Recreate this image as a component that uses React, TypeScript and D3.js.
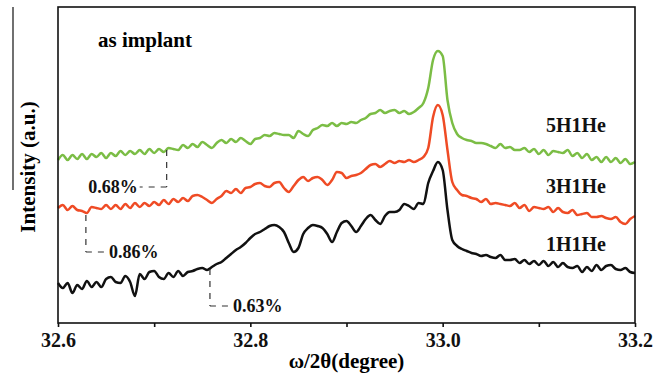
import { useEffect, useRef } from 'react';
import * as d3 from 'd3';

// scan grid (degrees)
const scanStart = 32.6;
const scanStep = 0.005;

// intensities (a.u.), one per scan step
const int5H1He = [
  163, 168, 163, 168, 164, 169, 164, 169, 166, 170, 165, 170, 167, 172, 168, 172, 169, 173, 169, 174,
  170, 174, 171, 175, 174, 173, 178, 175, 179, 176, 181, 178, 175, 180, 183, 180, 184, 181, 185, 182,
  179, 184, 185, 188, 187, 190, 189, 188, 188, 185, 192, 189, 187, 193, 195, 198, 197, 200, 197, 200,
  199, 201, 200, 203, 205, 209, 210, 213, 210, 212, 213, 210, 212, 209, 211, 215, 220, 235, 263, 272,
  267, 223, 200, 189, 185, 183, 182, 180, 180, 179, 177, 175, 179, 175, 176, 173, 173, 175, 171, 174,
  169, 173, 168, 172, 171, 170, 173, 167, 170, 165, 169, 163, 166, 161, 166, 161, 165, 160, 164, 159,
  161,
];

const int3H1He = [
  115, 118, 113, 117, 113, 112, 110, 116, 115, 114, 118, 114, 118, 114, 119, 115, 120, 116, 120, 117,
  121, 118, 123, 119, 124, 121, 125, 122, 127, 128, 126, 123, 120, 124, 127, 132, 130, 134, 130, 135,
  136, 139, 140, 137, 136, 140, 141, 135, 131, 137, 143, 146, 142, 145, 146, 143, 138, 143, 151, 150,
  145, 147, 148, 150, 154, 158, 159, 156, 159, 162, 160, 162, 161, 163, 161, 163, 166, 175, 206, 218,
  208, 173, 141, 133, 128, 127, 125, 124, 121, 124, 119, 120, 119, 118, 117, 120, 115, 118, 112, 116,
  115, 114, 116, 111, 115, 111, 110, 113, 108, 109, 110, 106, 106, 107, 105, 104, 106, 101, 99, 104,
  107,
];

const int1H1He = [
  40, 35, 40, 30, 38, 34, 42, 36, 41, 36, 44, 46, 41, 40, 47, 41, 27, 49, 44, 51,
  52, 46, 44, 50, 46, 52, 47, 51, 52, 54, 55, 53, 56, 59, 61, 65, 69, 73, 76, 80,
  85, 89, 91, 94, 97, 98, 96, 91, 80, 71, 75, 89, 95, 98, 97, 95, 89, 81, 91, 100,
  102, 97, 91, 97, 104, 108, 103, 99, 107, 111, 111, 113, 119, 117, 114, 120, 119, 140, 152, 161,
  153, 113, 83, 77, 74, 72, 70, 69, 67, 68, 66, 65, 68, 63, 63, 64, 60, 63, 59, 62,
  58, 62, 57, 61, 56, 60, 56, 55, 57, 51, 56, 52, 58, 53, 57, 58, 54, 53, 55, 51,
  50,
];

const seriesNames = ['5H1He', '3H1He', '1H1He'];
const seriesColors = ['#7bbd45', '#ef4b25', '#111111'];

const xTicks = [32.6, 32.7, 32.8, 32.9, 33.0, 33.1, 33.2];
const xTickLabels = ['32.6', '', '32.8', '', '33.0', '', '33.2'];

const strainLabels = ['0.68%', '0.86%', '0.63%'];
const strainAngles = [32.713, 32.629, 32.758];

const FONT = 'Liberation Serif';

const App = () => {
  const svgRef = useRef(null);

  useEffect(() => {
    const svg = d3.select(svgRef.current);
    svg.selectAll('*').remove();

    const width = 667;
    const height = 376;
    const margin = { top: 7, right: 32, bottom: 53, left: 58 };

    svg.attr('width', width)
      .attr('height', height)
      .attr('font-family', FONT)
      .attr('font-weight', 'bold');

    svg.append('rect').attr('width', width).attr('height', height).attr('fill', '#ffffff');

    const x = d3
      .scaleLinear()
      .domain([32.6, 33.2])
      .range([margin.left, width - margin.right]);

    const y = d3
      .scaleLinear()
      .domain([0, 316])
      .range([height - margin.bottom, margin.top]);

    const allSeries = [int5H1He, int3H1He, int1H1He];

    // curves
    const line = d3
      .line()
      .x((d, i) => x(scanStart + i * scanStep))
      .y((d) => y(d))
      .curve(d3.curveMonotoneX);

    allSeries.forEach((s, k) => {
      svg.append('path')
        .datum(s)
        .attr('d', line)
        .attr('fill', 'none')
        .attr('stroke', seriesColors[k])
        .attr('stroke-width', 2.5)
        .attr('stroke-linejoin', 'round');
    });

    // frame
    svg.append('rect')
      .attr('x', margin.left)
      .attr('y', margin.top)
      .attr('width', width - margin.left - margin.right)
      .attr('height', height - margin.top - margin.bottom)
      .attr('fill', 'none')
      .attr('stroke', '#111')
      .attr('stroke-width', 1.6);

    // x axis
    const xAxis = d3
      .axisBottom(x)
      .tickValues(xTicks)
      .tickSize(4)
      .tickPadding(6)
      .tickFormat((d, i) => xTickLabels[i]);

    const gx = svg.append('g')
      .attr('transform', `translate(0,${height - margin.bottom})`)
      .call(xAxis);
    gx.attr('font-family', FONT).attr('font-size', 20).attr('font-weight', 'bold');
    gx.select('.domain').remove();
    gx.selectAll('line').attr('stroke', '#111').attr('stroke-width', 1.6);
    gx.selectAll('text').attr('fill', '#111');

    svg.append('text')
      .attr('x', (margin.left + width - margin.right) / 2)
      .attr('y', 368)
      .attr('text-anchor', 'middle')
      .attr('font-size', 21)
      .text('ω/2θ(degree)');

    // y label
    svg.append('line')
      .attr('x1', 13).attr('x2', 13)
      .attr('y1', 7).attr('y2', 190)
      .attr('stroke', '#111')
      .attr('stroke-width', 1.2);

    svg.append('text')
      .attr('transform', 'translate(35,167) rotate(-90)')
      .attr('text-anchor', 'middle')
      .attr('font-size', 21)
      .text('Intensity (a.u.)');

    svg.append('text')
      .attr('x', 98)
      .attr('y', 47)
      .attr('font-size', 21)
      .text('as implant');

    // series labels
    const labelBaselines = [132, 193, 251];
    seriesNames.forEach((n, k) => {
      svg.append('text')
        .attr('x', 546)
        .attr('y', labelBaselines[k])
        .attr('font-size', 20)
        .attr('fill', '#111')
        .text(n);
    });

    // strain annotations
    const dash = '6,6';
    strainAngles.forEach((a, k) => {
      const s = allSeries[k];
      const idx = Math.round((a - scanStart) / scanStep);
      const ax = x(a);
      const top = y(s[idx]) + 2;
      const bottom = top + 37;

      svg.append('line')
        .attr('x1', ax).attr('x2', ax)
        .attr('y1', top).attr('y2', bottom)
        .attr('stroke', '#333')
        .attr('stroke-width', 1.2)
        .attr('stroke-dasharray', dash);

      const left = k === 0;
      svg.append('line')
        .attr('x1', ax).attr('x2', left ? ax - 27 : ax + 20)
        .attr('y1', bottom).attr('y2', bottom)
        .attr('stroke', '#333')
        .attr('stroke-width', 1.2)
        .attr('stroke-dasharray', dash);

      svg.append('text')
        .attr('x', left ? ax - 29 : ax + 23)
        .attr('y', bottom + 6)
        .attr('text-anchor', left ? 'end' : 'start')
        .attr('font-size', 18)
        .attr('fill', '#111')
        .text(strainLabels[k]);
    });
  }, []);

  return (
    <svg
      ref={svgRef}
      style={{ position: 'fixed', left: 0, top: 0, display: 'block' }}
    ></svg>
  );
};

export default App;
